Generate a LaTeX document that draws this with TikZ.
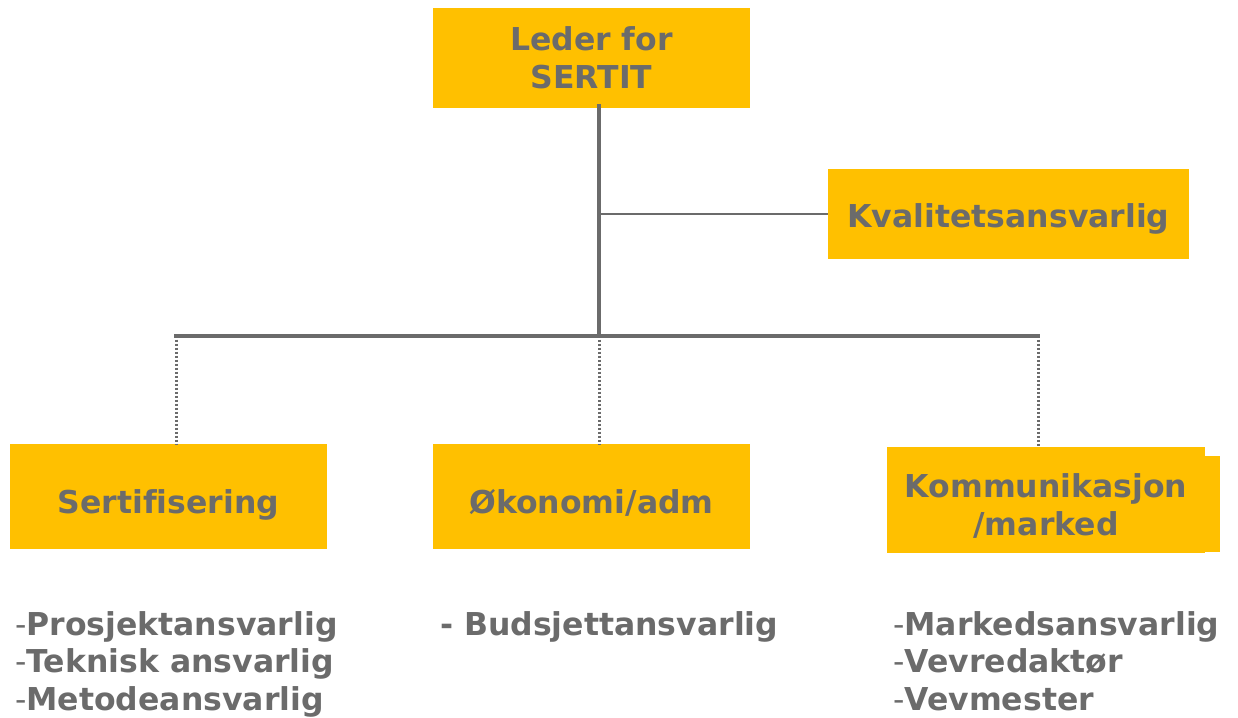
\documentclass[tikz,border=0pt]{standalone}
\usepackage{fontspec}
\setmainfont[Ligatures=NoCommon]{DejaVu Sans}
\usepackage{tikz}

\definecolor{boxyellow}{HTML}{FFC000}
\definecolor{textgray}{HTML}{6B6B6B}

\begin{document}
\begin{tikzpicture}[x=1pt,y=-1pt,
    box/.style={fill=boxyellow,text=textgray,font=\fontsize{31.5}{38}\selectfont\bfseries,align=center,inner sep=0pt},
    list/.style={text=textgray,font=\fontsize{31.5}{37.5}\selectfont,align=left,anchor=base west,inner sep=0pt},
    trunk/.style={draw=textgray,line width=4pt},
    branch/.style={draw=textgray,line width=1.5pt},
    drop/.style={draw=textgray,line width=3pt,dash pattern=on 2.5pt off 1.5pt}]
    \useasboundingbox (0,0) rectangle (1238,717);

    \node[box,minimum width=317pt,minimum height=100pt] (leder) at (591.5,58) {Leder for\\SERTIT};
    \node[box,minimum width=361pt,minimum height=90pt,text height=26pt,text depth=0pt] (kval) at (1008.5,214) {Kvalitetsansvarlig};
    \node[box,minimum width=317pt,minimum height=105pt,text height=33pt,text depth=0pt] (sert) at (168.5,496.5) {Sertifisering};
    \node[box,minimum width=317pt,minimum height=105pt,text height=33pt,text depth=0pt] (okon) at (591.5,496.5) {Økonomi/adm};
    \fill[boxyellow] (893,456) rectangle (1220,552);
    \node[box,minimum width=318pt,minimum height=106pt,text height=70pt,text depth=0pt] (komm) at (1046,500) {Kommunikasjon\\/marked};

    \coordinate (hub) at (599,335.5);
    \coordinate (barL) at (174,335.5);
    \coordinate (barR) at (1040,335.5);
    \coordinate (t1) at (176,335.5);
    \coordinate (t3) at (1038,335.5);

    % dotted drops to the three sections
    \draw[drop] (t1) -- (t1 |- sert.north);
    \draw[drop] (hub) -- (hub |- okon.north);
    \draw[drop] (t3) -- (t3 |- komm.north);

    \draw[trunk] ([yshift=4pt]hub |- leder.south) -- (hub);
    \draw[trunk] (barL) -- (barR);
    \draw[branch] (hub |- kval.west) -- (kval.west);

    % lists under the sections (base = last line)
    \node[list] (sertlist) at (15,710) {-\textbf{Prosjektansvarlig}\\-\textbf{Teknisk ansvarlig}\\-\textbf{Metodeansvarlig}};
    \node[list] (okonlist) at (440,635) {\textbf{- Budsjettansvarlig}};
    \node[list] (kommlist) at (893,710) {-\textbf{Markedsansvarlig}\\-\textbf{Vevredaktør}\\-\textbf{Vevmester}};
\end{tikzpicture}
\end{document}
